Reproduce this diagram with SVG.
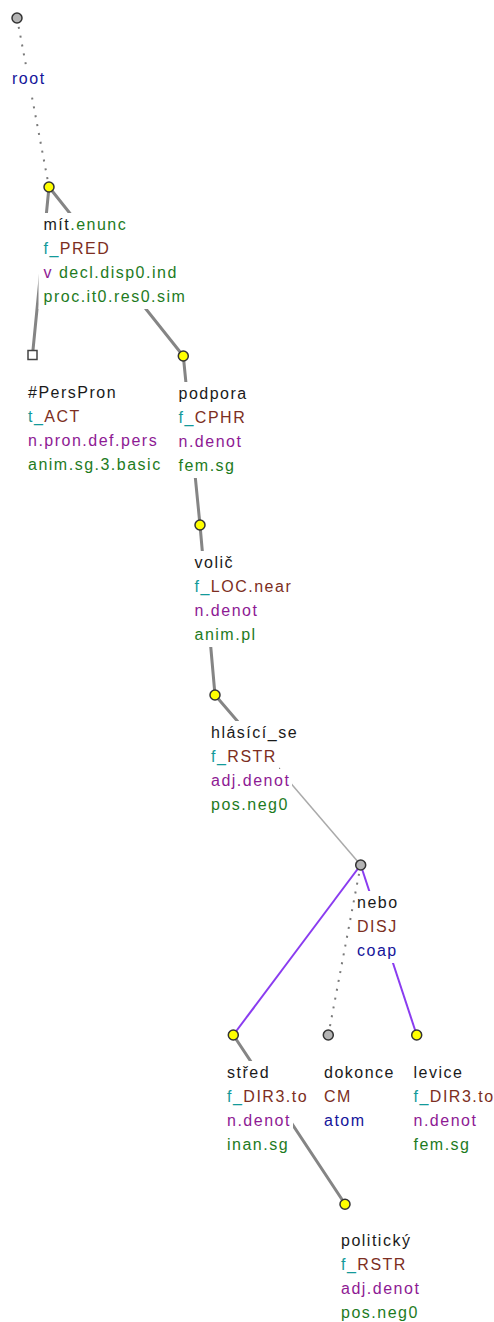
<svg xmlns="http://www.w3.org/2000/svg" width="494" height="1322" viewBox="0 0 494 1322">
<style>
text{font-family:"Liberation Sans",Arial,sans-serif;font-size:16px;letter-spacing:1.5px}
.bx{fill:#fff}
.k{fill:#1a1a1a}.g{fill:#1e7b1e}.t{fill:#139a9a}.b{fill:#7c2e22}.p{fill:#8e1a94}.u{fill:#14149a}
.thick{stroke:#858585;stroke-width:3;fill:none;stroke-linecap:round}
.thin{stroke:#aaaaaa;stroke-width:1.5;fill:none}
.dot{stroke:#7a7a7a;stroke-width:2;fill:none;stroke-dasharray:2 7}
.pur{stroke:#8a3cf0;stroke-width:2;fill:none}
.y{fill:#ffff00;stroke:#333;stroke-width:1.5}
.gr{fill:#b4b4b4;stroke:#333;stroke-width:1.5}
.sq{fill:#fff;stroke:#444;stroke-width:1.5}
</style>
<g id="connectors">
<line class="dot" x1="17" y1="18" x2="49" y2="187"/>
<line class="thick" x1="49" y1="187" x2="32.5" y2="355"/>
<line class="thick" x1="49" y1="187" x2="183.3" y2="356"/>
<line class="thick" x1="183.3" y1="356" x2="200" y2="525"/>
<line class="thick" x1="200" y1="525" x2="215" y2="695"/>
<line class="thick" x1="215" y1="695" x2="288" y2="780"/>
<line class="thin" x1="288" y1="780" x2="360.7" y2="865"/>
<line class="pur" x1="360.7" y1="865" x2="233.3" y2="1035"/>
<line class="dot" x1="360.7" y1="865" x2="328.3" y2="1035"/>
<line class="pur" x1="360.7" y1="865" x2="416.7" y2="1035"/>
<line class="thick" x1="233.3" y1="1035" x2="345" y2="1204"/>
</g>
<g id="n-root">
<rect class="bx" x="7" y="67" width="41" height="24"/>
<circle class="gr" cx="17" cy="18" r="5"/>
<text x="12" y="84" class="u">root</text>
</g>
<g id="n-mit">
<rect class="bx" x="38.5" y="213" width="91" height="24"/>
<rect class="bx" x="38.5" y="237" width="74" height="24"/>
<rect class="bx" x="38.5" y="261" width="141" height="24"/>
<rect class="bx" x="38.5" y="285" width="148" height="24"/>
<circle class="y" cx="49" cy="187" r="5"/>
<text x="43.5" y="230"><tspan class="k">mít</tspan><tspan class="g">.enunc</tspan></text>
<text x="43.5" y="254"><tspan class="t">f_</tspan><tspan class="b">PRED</tspan></text>
<text x="43.5" y="278"><tspan class="p">v</tspan><tspan class="g"> decl.disp0.ind</tspan></text>
<text x="43.5" y="302" class="g">proc.it0.res0.sim</text>
</g>
<g id="n-perspron">
<rect class="bx" x="23" y="381" width="96" height="24"/>
<rect class="bx" x="23" y="405" width="60" height="24"/>
<rect class="bx" x="23" y="429" width="137" height="24"/>
<rect class="bx" x="23" y="453" width="139" height="24"/>
<rect class="sq" x="28" y="350.5" width="9" height="9"/>
<text x="28" y="398" class="k">#PersPron</text>
<text x="28" y="422"><tspan class="t">t_</tspan><tspan class="b">ACT</tspan></text>
<text x="28" y="446" class="p">n.pron.def.pers</text>
<text x="28" y="470" class="g">anim.sg.3.basic</text>
</g>
<g id="n-podpora">
<rect class="bx" x="173.5" y="382" width="76" height="24"/>
<rect class="bx" x="173.5" y="406" width="75" height="24"/>
<rect class="bx" x="173.5" y="430" width="71" height="24"/>
<rect class="bx" x="173.5" y="454" width="64" height="24"/>
<circle class="y" cx="183.3" cy="356" r="5"/>
<text x="178.5" y="399" class="k">podpora</text>
<text x="178.5" y="423"><tspan class="t">f_</tspan><tspan class="b">CPHR</tspan></text>
<text x="178.5" y="447" class="p">n.denot</text>
<text x="178.5" y="471" class="g">fem.sg</text>
</g>
<g id="n-volic">
<rect class="bx" x="189.5" y="551" width="47" height="24"/>
<rect class="bx" x="189.5" y="575" width="105" height="24"/>
<rect class="bx" x="189.5" y="599" width="71" height="24"/>
<rect class="bx" x="189.5" y="623" width="69" height="24"/>
<circle class="y" cx="200" cy="525" r="5"/>
<text x="194.5" y="568" class="k">volič</text>
<text x="194.5" y="592"><tspan class="t">f_</tspan><tspan class="b">LOC.near</tspan></text>
<text x="194.5" y="616" class="p">n.denot</text>
<text x="194.5" y="640" class="g">anim.pl</text>
</g>
<g id="n-hlasici">
<rect class="bx" x="206" y="721" width="94" height="24"/>
<rect class="bx" x="206" y="745" width="73" height="24"/>
<rect class="bx" x="206" y="769" width="86" height="24"/>
<rect class="bx" x="206" y="793" width="85" height="24"/>
<circle class="y" cx="215" cy="695" r="5"/>
<text x="211" y="738" class="k">hlásící_se</text>
<text x="211" y="762"><tspan class="t">f_</tspan><tspan class="b">RSTR</tspan></text>
<text x="211" y="786" class="p">adj.denot</text>
<text x="211" y="810" class="g">pos.neg0</text>
</g>
<g id="n-nebo">
<rect class="bx" x="357" y="891" width="44" height="24"/>
<rect class="bx" x="357" y="915" width="44" height="24"/>
<rect class="bx" x="357" y="939" width="44" height="24"/>
<circle class="gr" cx="360.7" cy="865" r="5"/>
<text x="357" y="908" class="k">nebo</text>
<text x="357" y="932" class="b">DISJ</text>
<text x="357" y="956" class="u">coap</text>
</g>
<g id="n-stred">
<rect class="bx" x="222" y="1061" width="50" height="24"/>
<rect class="bx" x="222" y="1085" width="88" height="24"/>
<rect class="bx" x="222" y="1109" width="71" height="24"/>
<rect class="bx" x="222" y="1133" width="69" height="24"/>
<circle class="y" cx="233.3" cy="1035" r="5"/>
<text x="227" y="1078" class="k">střed</text>
<text x="227" y="1102"><tspan class="t">f_</tspan><tspan class="b">DIR3.to</tspan></text>
<text x="227" y="1126" class="p">n.denot</text>
<text x="227" y="1150" class="g">inan.sg</text>
</g>
<g id="n-dokonce">
<rect class="bx" x="319" y="1061" width="78" height="24"/>
<rect class="bx" x="319" y="1085" width="35" height="24"/>
<rect class="bx" x="319" y="1109" width="49" height="24"/>
<circle class="gr" cx="328.3" cy="1035" r="5"/>
<text x="324" y="1078" class="k">dokonce</text>
<text x="324" y="1102" class="b">CM</text>
<text x="324" y="1126" class="u">atom</text>
</g>
<g id="n-levice">
<rect class="bx" x="408.5" y="1061" width="57" height="24"/>
<rect class="bx" x="408.5" y="1085" width="88" height="24"/>
<rect class="bx" x="408.5" y="1109" width="71" height="24"/>
<rect class="bx" x="408.5" y="1133" width="64" height="24"/>
<circle class="y" cx="416.7" cy="1035" r="5"/>
<text x="413.5" y="1078" class="k">levice</text>
<text x="413.5" y="1102"><tspan class="t">f_</tspan><tspan class="b">DIR3.to</tspan></text>
<text x="413.5" y="1126" class="p">n.denot</text>
<text x="413.5" y="1150" class="g">fem.sg</text>
</g>
<g id="n-politicky">
<rect class="bx" x="336" y="1229" width="77" height="24"/>
<rect class="bx" x="336" y="1253" width="73" height="24"/>
<rect class="bx" x="336" y="1277" width="86" height="24"/>
<rect class="bx" x="336" y="1301" width="85" height="21"/>
<circle class="y" cx="345" cy="1204.3" r="5"/>
<text x="341" y="1246" class="k">politický</text>
<text x="341" y="1270"><tspan class="t">f_</tspan><tspan class="b">RSTR</tspan></text>
<text x="341" y="1294" class="p">adj.denot</text>
<text x="341" y="1318" class="g">pos.neg0</text>
</g>
</svg>
